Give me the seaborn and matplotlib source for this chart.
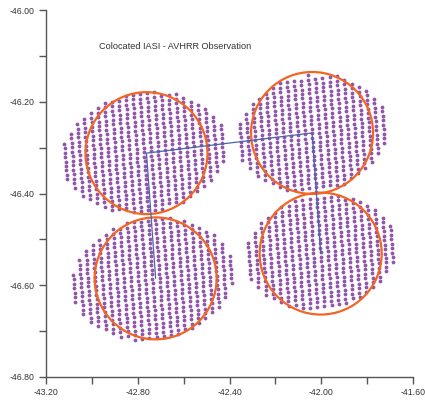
import numpy as np
import pandas as pd
import matplotlib
matplotlib.use("Agg")
import matplotlib.pyplot as plt
from matplotlib.patches import Ellipse
import seaborn as sns

# ---- data ----
# AVHRR pixel clusters (one per IASI footprint)
cluster_names = ["NW", "NE", "SW", "SE"]
dot_center_lon = [-42.773, -42.040, -42.736, -42.003]
dot_center_lat = [-46.310, -46.269, -46.586, -46.528]
dot_half_cols = [11.6, 10.6, 11.3, 10.6]   # half-width in pixel columns
dot_half_rows = [13.4, 13.0, 13.6, 12.8]   # half-height in pixel rows
# step between AVHRR pixels (lon, lat)
col_step = [0.0310, 0.00185]
row_step = [0.00140, -0.00975]

# IASI footprints (circles)
circle_lon = [-42.762, -42.040, -42.722, -42.0025]
circle_lat = [-46.312, -46.268, -46.585, -46.531]
circle_r_lon = 0.266
circle_r_lat = 0.1329

# blue line through the footprint centres
path_order = [2, 0, 1, 3]

x_ticks = [-43.2, -42.8, -42.4, -42.0, -41.6]
y_ticks = [-46.8, -46.6, -46.4, -46.2, -46.0]
title_text = "Colocated IASI - AVHRR Observation"

# ---- build dot table ----
rows = []
for k, name in enumerate(cluster_names):
    na, nb = dot_half_cols[k], dot_half_rows[k]
    for i in range(-int(na) - 1, int(na) + 2):
        for j in range(-int(nb) - 1, int(nb) + 2):
            if (i / na) ** 2 + (j / nb) ** 2 <= 1.0:
                lon = dot_center_lon[k] + i * col_step[0] + j * row_step[0]
                lat = dot_center_lat[k] + i * col_step[1] + j * row_step[1]
                rows.append((name, lon, lat))
dots = pd.DataFrame(rows, columns=["cluster", "lon", "lat"])
path = pd.DataFrame({"lon": [circle_lon[i] for i in path_order],
                     "lat": [circle_lat[i] for i in path_order],
                     "step": range(len(path_order))})

sns.set_style("ticks")
plt.rcParams["font.family"] = ["Liberation Sans", "DejaVu Sans"]

fig = plt.figure(figsize=(4.25, 4.04), dpi=100)
ax = fig.add_axes([46 / 425, 27 / 404, 367 / 425, 367 / 404])

sns.scatterplot(data=dots, x="lon", y="lat", ax=ax, color="#8343a0",
                s=7.5, linewidth=0, alpha=0.9, legend=False, zorder=2)

for k in range(len(circle_lon)):
    ax.add_patch(Ellipse((circle_lon[k], circle_lat[k]), 2 * circle_r_lon,
                         2 * circle_r_lat, fill=False, edgecolor="#f26522",
                         linewidth=1.6, zorder=3))

sns.lineplot(data=path, x="lon", y="lat", sort=False, ax=ax,
             color="#4a63ad", linewidth=0.9, zorder=4, estimator=None)

ax.text(-42.969, -46.0806, title_text, ha="left", va="center",
        fontsize=6.6, color="#333333")

ax.set_xlim(-43.2, -41.6)
ax.set_ylim(-46.8, -46.0)
ax.set_xticks(x_ticks)
ax.set_xticklabels([f"{v:.2f}" for v in x_ticks])
ax.set_yticks(y_ticks)
ax.set_yticklabels([f"{v:.2f}" for v in y_ticks])
ax.set_xticks(np.arange(-43.0, -41.6, 0.4), minor=True)
ax.set_yticks(np.arange(-46.7, -46.0, 0.2), minor=True)
ax.tick_params(which="both", direction="out", length=5, width=1.0,
               color="#555555", labelsize=6.3, labelcolor="#333333", pad=3)
ax.set_xlabel("")
ax.set_ylabel("")
sns.despine(ax=ax)
for sp in ["left", "bottom"]:
    ax.spines[sp].set_color("#555555")
    ax.spines[sp].set_linewidth(1.0)

fig.savefig("out.png", dpi=100)
